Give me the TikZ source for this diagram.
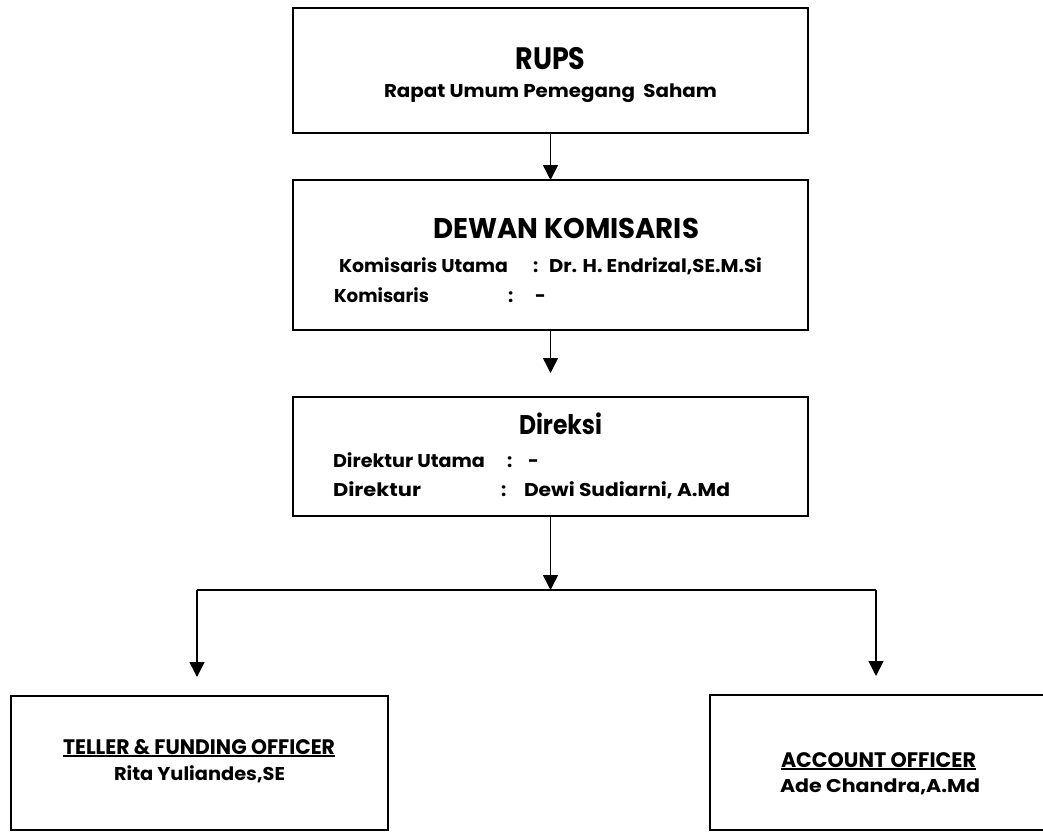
\documentclass[tikz,border=0pt]{standalone}
\usepackage{fontspec}
\setmainfont{Poppins}
\usetikzlibrary{arrows.meta}
\newsavebox\fitbox
\newcommand\fitw[3]{\fontsize{#2}{#2}\selectfont\sbox\fitbox{\bfseries #3}\pgfmathsetmacro\fitfac{#1/\the\wd\fitbox}\scalebox{\fitfac}[1]{\usebox\fitbox}}
\newcommand\fitu[3]{\fontsize{#2}{#2}\selectfont\sbox\fitbox{\bfseries #3}\pgfmathsetmacro\fitfac{#1/\the\wd\fitbox}\scalebox{\fitfac}[1]{\vtop{\hbox{\usebox\fitbox}\kern1.2pt\hrule height 1.6pt}}}
\newcommand\plain[2]{\fontsize{#1}{#1}\selectfont\bfseries #2}
\begin{document}
\begin{tikzpicture}[x=1pt,y=-1pt,
  box/.style={draw=black, line width=1.5pt, anchor=north west, inner sep=0pt, outer sep=0pt},
  txt/.style={inner sep=0pt, outer sep=0pt, text=black},
  conn/.style={draw=black, line width=1.5pt},
  arr/.style={conn, -{Triangle[width=15pt,length=15pt]}}]
\clip (0,0) rectangle (1043,832);
\fill[white] (0,0) rectangle (1043,832);
% boxes
\node[box, minimum width=515pt, minimum height=125pt] (rups) at (293,8) {};
\node[box, minimum width=515pt, minimum height=150pt] (dewan) at (293,180) {};
\node[box, minimum width=515pt, minimum height=119pt] (direksi) at (293,397) {};
\node[box, minimum width=377pt, minimum height=134pt] (teller) at (11,696) {};
\node[box, minimum width=360pt, minimum height=135pt] (account) at (710,695) {};
% texts
\node[txt, anchor=base] (rupsT) at (550.5,70) {\fitw{70}{31}{RUPS}};
\node[txt, anchor=base] (rupsS) at (550.5,98) {\fitw{333}{18.5}{Rapat Umum Pemegang\ \ Saham}};
\node[txt, anchor=base west] (dewT) at (433,238) {\fitw{266}{28.5}{DEWAN KOMISARIS}};
\node[txt, anchor=base west] (dew1a) at (339,272) {\fitw{169}{18.5}{Komisaris Utama}};
\node[txt, anchor=base west] (dew1b) at (533,272) {\plain{18.5}{:}};
\node[txt, anchor=base west] (dew1c) at (549,272) {\fitw{213}{18.5}{Dr. H. Endrizal,SE.M.Si}};
\node[txt, anchor=base west] (dew2a) at (334,302) {\fitw{95}{18.5}{Komisaris}};
\node[txt, anchor=base west] (dew2b) at (508,302) {\plain{18.5}{:}};
\node[txt, anchor=base west] (dew2c) at (535,302) {\plain{18.5}{-}};
\node[txt, anchor=base west] (dirT) at (519,434) {\fitw{83}{27}{Direksi}};
\node[txt, anchor=base west] (dir1a) at (333,467) {\fitw{152}{18.5}{Direktur Utama}};
\node[txt, anchor=base west] (dir1b) at (507,467) {\plain{18.5}{:}};
\node[txt, anchor=base west] (dir1c) at (528,467) {\plain{18.5}{-}};
\node[txt, anchor=base west] (dir2a) at (333,496) {\fitw{88}{18.5}{Direktur}};
\node[txt, anchor=base west] (dir2b) at (501,496) {\plain{18.5}{:}};
\node[txt, anchor=base west] (dir2c) at (524,496) {\fitw{206}{18.5}{Dewi Sudiarni, A.Md}};
\node[txt, anchor=base west] (telT) at (63,754) {\fitu{272}{21}{TELLER \& FUNDING OFFICER}};
\node[txt, anchor=base west] (telN) at (114,780) {\fitw{171}{18.5}{Rita Yuliandes,SE}};
\node[txt, anchor=base west] (accT) at (781,767) {\fitu{195}{21}{ACCOUNT OFFICER}};
\node[txt, anchor=base west] (accN) at (780,792) {\fitw{200}{18.5}{Ade Chandra,A.Md}};
% connectors
\coordinate (jn) at (550.5,590);
\coordinate (hl) at (197,590);
\coordinate (hr) at (876,590);
\draw[arr] (rups.south) -- (dewan.north);
\draw[arr, shorten >=24pt] (dewan.south) -- (direksi.north);
\draw[arr] (direksi.south) -- (jn);
\draw[conn] (hl) -- (hr);
\draw[arr, shorten >=19pt] (hl) -- (hl |- teller.north);
\draw[arr, shorten >=19pt] (hr) -- (hr |- account.north);
\end{tikzpicture}
\end{document}
